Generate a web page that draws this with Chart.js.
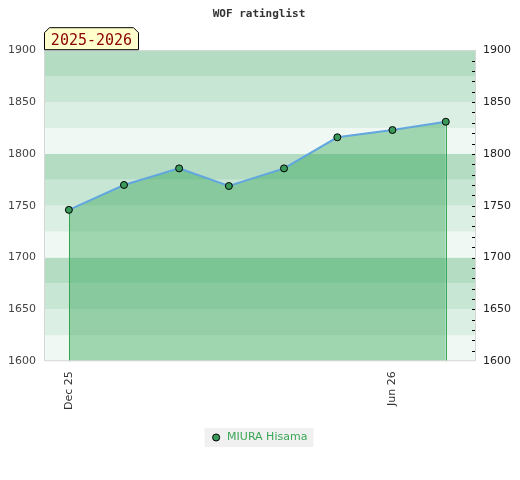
<!DOCTYPE html>
<html>
<head>
<meta charset="utf-8">
<script src="https://cdn.jsdelivr.net/npm/chart.js@4.4.1/dist/chart.umd.min.js"></script>
<style>
  html, body { margin: 0; padding: 0; background: #fff; }
  #wrap { width: 520px; height: 480px; }
</style>
</head>
<body>
<div id="wrap"><canvas id="rating-chart"></canvas></div>
<script>
// rating list data, one entry per month
var dates = ['2025-12-01', '2026-01-01', '2026-02-01', '2026-03-01',
             '2026-04-01', '2026-05-01', '2026-06-01', '2026-07-01'];
var ratings = [1746, 1770, 1786, 1769, 1786, 1816, 1823, 1831];
var xTickDates = ['2025-12-01', '2026-06-01'];
var xTickLabels = ['Dec 25', 'Jun 26'];
var yTicks = [1600, 1650, 1700, 1750, 1800, 1850, 1900];
var playerName = 'MIURA Hisama';
var seasonLabel = '2025-2026';

var DAY = 86400000;
var origin = Date.parse(dates[0]);
function dayOf(d) { return Math.round((Date.parse(d) - origin) / DAY); }

var points = dates.map(function (d, i) { return { x: dayOf(d), y: ratings[i] }; });
var xTickValues = xTickDates.map(dayOf);

var bandColors = ['#b3dcc3', '#c8e6d4', '#dcefe4', '#eff8f2']; // top to bottom in each 100

var bandsPlugin = {
    id: 'bands',
    beforeDraw: function (chart) {
        var ctx = chart.ctx, a = chart.chartArea, y = chart.scales.y;
        ctx.save();
        for (var v = y.min; v < y.max; v += 25) {
            var top = y.getPixelForValue(v + 25), bot = y.getPixelForValue(v);
            var idx = 3 - ((v - y.min) / 25) % 4;
            ctx.fillStyle = bandColors[idx];
            ctx.fillRect(a.left, top, a.right - a.left, bot - top);
        }
        // legend background
        var lg = chart.legend;
        if (lg && lg.legendHitBoxes && lg.legendHitBoxes.length) {
            var hb = lg.legendHitBoxes[0];
            ctx.fillStyle = '#f0f0f0';
            ctx.fillRect(hb.left - 6, hb.top - 4, hb.width + 12, hb.height + 8);
        }
        ctx.restore();
    },
    beforeDatasetsDraw: function (chart) {
        // vertical edges of the filled area
        var ctx = chart.ctx, a = chart.chartArea;
        var meta = chart.getDatasetMeta(0).data;
        ctx.save();
        ctx.strokeStyle = '#3aa757';
        ctx.lineWidth = 1;
        [meta[0], meta[meta.length - 1]].forEach(function (p) {
            var px = Math.round(p.x) + 0.5;
            ctx.beginPath();
            ctx.moveTo(px, p.y);
            ctx.lineTo(px, a.bottom);
            ctx.stroke();
        });
        ctx.restore();
    },
    afterDraw: function (chart) {
        var ctx = chart.ctx, a = chart.chartArea, y = chart.scales.y;
        ctx.save();
        // plot border
        ctx.strokeStyle = '#d6d6d6';
        ctx.lineWidth = 1;
        ctx.strokeRect(a.left + 0.5, a.top + 0.5, a.right - a.left - 1, a.bottom - a.top - 1);
        // minor ticks inside the right edge
        ctx.strokeStyle = '#000';
        for (var v = y.min + 10; v < y.max; v += 10) {
            var py = Math.round(y.getPixelForValue(v)) + 0.5;
            ctx.beginPath();
            ctx.moveTo(a.right - 4, py);
            ctx.lineTo(a.right - 1, py);
            ctx.stroke();
        }
        // season badge
        var bx = a.left + 0.5, by = a.top - 22.5, bw = 94, bh = 22, c = 5;
        ctx.beginPath();
        ctx.moveTo(bx, by + bh);
        ctx.lineTo(bx, by + c);
        ctx.lineTo(bx + c, by);
        ctx.lineTo(bx + bw - c, by);
        ctx.lineTo(bx + bw, by + c);
        ctx.lineTo(bx + bw, by + bh);
        ctx.closePath();
        ctx.fillStyle = '#ffffcc';
        ctx.fill();
        ctx.strokeStyle = '#000';
        ctx.stroke();
        ctx.fillStyle = '#8b0000';
        ctx.font = '15px "DejaVu Sans Mono"';
        ctx.textBaseline = 'middle';
        ctx.textAlign = 'center';
        ctx.fillText(seasonLabel, bx + bw / 2, by + bh / 2 + 2);
        ctx.restore();
    }
};

new Chart(document.getElementById('rating-chart'), {
    type: 'line',
    data: {
        datasets: [{
            label: playerName,
            data: points,
            borderColor: '#62a6df',
            borderWidth: 2,
            backgroundColor: 'rgba(40,160,75,0.4)',
            fill: 'start',
            tension: 0,
            pointRadius: 3.5,
            pointBackgroundColor: '#3a9a5a',
            pointBorderColor: '#000',
            pointBorderWidth: 1
        }]
    },
    options: {
        responsive: true,
        maintainAspectRatio: false,
        animation: false,
        layout: { padding: { left: 0, right: 2, top: 4, bottom: 27 } },
        plugins: {
            title: {
                display: true,
                text: 'WOF ratinglist',
                color: '#333',
                font: { family: '"DejaVu Sans Mono"', size: 11, weight: 'bold' },
                padding: { top: 4, bottom: 29 }
            },
            legend: {
                position: 'bottom',
                labels: {
                    usePointStyle: true,
                    pointStyle: 'circle',
                    boxWidth: 12,
                    boxHeight: 5,
                    color: '#3aa757',
                    font: { family: '"DejaVu Sans"', size: 11 },
                    padding: 20
                }
            },
            tooltip: { enabled: false }
        },
        scales: {
            x: {
                type: 'linear',
                min: -14,
                max: 229,
                afterBuildTicks: function (axis) {
                    axis.ticks = xTickValues.map(function (v) { return { value: v }; });
                },
                ticks: {
                    autoSkip: false,
                    minRotation: 90,
                    maxRotation: 90,
                    color: '#333',
                    font: { family: '"DejaVu Sans"', size: 11 },
                    padding: 2,
                    callback: function (v) {
                        var i = xTickValues.indexOf(v);
                        return i >= 0 ? xTickLabels[i] : '';
                    }
                },
                grid: { display: false },
                border: { display: false }
            },
            y: {
                position: 'left',
                min: 1600,
                max: 1900,
                afterBuildTicks: function (axis) {
                    axis.ticks = yTicks.map(function (v) { return { value: v }; });
                },
                ticks: {
                    color: '#444',
                    font: { family: '"DejaVu Sans"', size: 11 },
                    padding: 8,
                    callback: function (v) { return String(v); }
                },
                grid: { display: false, drawTicks: false },
                border: { display: false }
            },
            y2: {
                position: 'right',
                min: 1600,
                max: 1900,
                afterBuildTicks: function (axis) {
                    axis.ticks = yTicks.map(function (v) { return { value: v }; });
                },
                ticks: {
                    color: '#222',
                    font: { family: '"DejaVu Sans"', size: 11 },
                    padding: 7,
                    callback: function (v) { return String(v); }
                },
                grid: { display: false, drawTicks: false },
                border: { display: false }
            }
        }
    },
    plugins: [bandsPlugin]
});
</script>
</body>
</html>
